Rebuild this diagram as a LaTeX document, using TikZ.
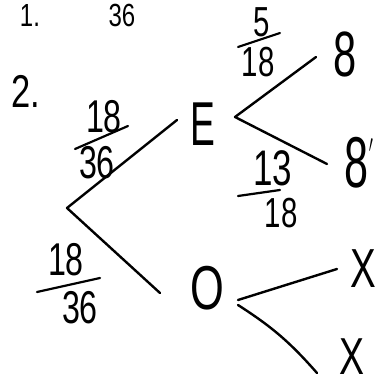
\documentclass[tikz,border=0pt]{standalone}
\usepackage{fontspec}
\setmainfont{Liberation Sans}
\usepackage{graphicx}
\newcommand{\nrw}[2][0.75]{\scalebox{#1}[1]{#2}}
\begin{document}
\begin{tikzpicture}[x=1pt,y=-1pt,
  hw/.style={inner sep=0pt, anchor=base, font=\fontsize{46}{50}\selectfont},
  big/.style={hw, font=\fontsize{62}{66}\selectfont},
  stroke/.style={line width=2.4pt, line cap=round, line join=round},
  bar/.style={line width=2.2pt, line cap=round}]
\useasboundingbox (0,0) rectangle (380,385);
% question 1 (top of the page)
\node[hw, font=\fontsize{32}{36}\selectfont] (one) at (30,27) {\nrw{1.}};
\node[hw, font=\fontsize{32}{36}\selectfont] (q1den) at (122,27) {\nrw{36}};
% question 2
\node[hw] (two) at (26,108) {\nrw{2.}};
% first level fractions
\node[hw] (n1) at (104,132) {\nrw[0.7]{18}};
\node[hw] (d1) at (97,178) {\nrw[0.7]{36}};
\draw[bar] (75,149) -- (128,126);
\node[hw] (n2) at (66,275) {\nrw[0.7]{18}};
\node[hw] (d2) at (80,323) {\nrw[0.7]{36}};
\draw[bar] (37,292) -- (100,278);
% tree
\coordinate (root) at (67,208);
\node[big] (E) at (203,145) {\nrw[0.6]{E}};
\node[big] (O) at (207,309) {\nrw[0.7]{O}};
\coordinate (eend) at (177,120);
\coordinate (oend) at (160,293);
\draw[stroke] (eend) -- (root) -- (oend);
% E branches
\coordinate (ev) at (235,117);
\coordinate (e1) at (316,57);
\coordinate (e2) at (327,164);
\draw[stroke] (e1) -- (ev) -- (e2);
\node[hw, font=\fontsize{42}{46}\selectfont] (n3) at (262,37) {\nrw[0.7]{5}};
\draw[bar] (238,47) -- (280,33);
\node[hw, font=\fontsize{42}{46}\selectfont] (d3) at (258,77) {\nrw[0.7]{18}};
\node[hw, font=\fontsize{50}{54}\selectfont] (n4) at (273,185) {\nrw[0.7]{13}};
\draw[bar] (238,196) -- (280,190);
\node[hw, font=\fontsize{42}{46}\selectfont] (d4) at (281,227) {\nrw[0.7]{18}};
\node[big, font=\fontsize{64}{68}\selectfont] (e8) at (345,77) {\nrw[0.65]{8}};
\node[big, font=\fontsize{72}{76}\selectfont] (e8p) at (359,187) {\nrw[0.6]{8\raisebox{0.35em}{\fontsize{40}{44}\selectfont$'$}}};
% O branches
\coordinate (ov1) at (238,300);
\coordinate (ov2) at (238,305);
\coordinate (o1) at (337,269);
\coordinate (o2) at (317,373);
\draw[stroke] (ov1) -- (o1);
\draw[stroke] (ov2) to[bend left=8] (o2);
\node[big, font=\fontsize{55}{60}\selectfont] (x1) at (363,287) {\nrw[0.7]{X}};
\node[big, font=\fontsize{52}{56}\selectfont] (x2) at (352,374) {\nrw[0.72]{X}};
\end{tikzpicture}
\end{document}
